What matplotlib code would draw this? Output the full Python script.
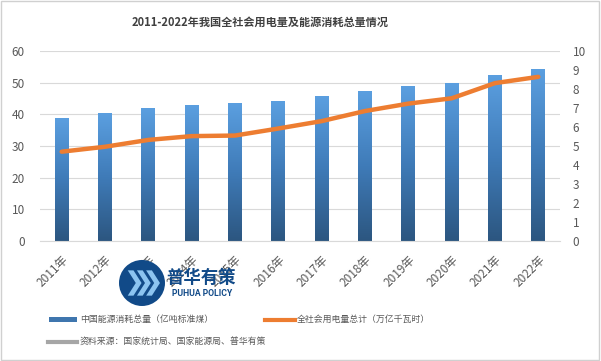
import numpy as np
import matplotlib.pyplot as plt
from matplotlib.patches import Rectangle, Circle, Polygon
from matplotlib.lines import Line2D
from matplotlib.colors import LinearSegmentedColormap

plt.rcParams['font.family'] = ['Noto Sans CJK SC', 'DejaVu Sans']

# ----- Data -----
years = ['2011年', '2012年', '2013年', '2014年', '2015年', '2016年',
         '2017年', '2018年', '2019年', '2020年', '2021年', '2022年']
energy = [38.7, 40.2, 41.7, 42.8, 43.4, 44.1, 45.6, 47.2, 48.7, 49.8, 52.4, 54.1]
power = [4.70, 4.96, 5.32, 5.52, 5.55, 5.92, 6.31, 6.84, 7.23, 7.51, 8.31, 8.64]

title = '2011-2022年我国全社会用电量及能源消耗总量情况'
lab_energy = '中国能源消耗总量（亿吨标准煤）'
lab_power = '全社会用电量总计（万亿千瓦时）'
source = '资料来源：国家统计局、国家能源局、普华有策'

grey = '#595959'
orange = '#ED7D31'
logo_blue = '#114A88'
cmap = LinearSegmentedColormap.from_list('bar', ['#2C5680', '#3F7BB8', '#5B9FE0'])

W, H = 601, 361
fig = plt.figure(figsize=(W / 100, H / 100), dpi=100)

def fx(px):
    return px / W

def fy(py):
    return 1 - py / H

ax = fig.add_axes([fx(40), fy(241), fx(520), 190 / H])
ax2 = ax.twinx()

x = np.arange(len(years))
w = 0.32
grad = np.linspace(0, 1, 256).reshape(-1, 1)
for xi, v in zip(x, energy):
    ax.imshow(grad, cmap=cmap, origin='lower', aspect='auto',
              extent=(xi - w / 2, xi + w / 2, 0, v), zorder=2)

ax.set_xlim(-0.5, len(years) - 0.5)
ax.set_ylim(0, 60)
ax.set_yticks(range(0, 61, 10))
ax.grid(axis='y', color='#D9D9D9', linewidth=0.8, zorder=0)
ax.set_axisbelow(True)

ax2.plot(x, power, color=orange, linewidth=3.2, solid_capstyle='round', zorder=3)
ax2.set_ylim(0, 10)
ax2.set_yticks(range(0, 11))

ax.set_xticks(x)
ax.set_xticklabels(years, rotation=45, ha='right', rotation_mode='anchor')
for a in (ax, ax2):
    for s in a.spines.values():
        s.set_visible(False)
    a.tick_params(length=0, colors=grey, labelsize=8.5)
ax.tick_params(axis='x', pad=9)
ax.tick_params(axis='y', pad=11)
ax2.tick_params(axis='y', pad=9)
ax.spines['bottom'].set_visible(True)
ax.spines['bottom'].set_color('#D9D9D9')

fig.text(fx(260), fy(22), title, ha='center', va='center', fontsize=8,
         fontweight='bold', color='#404040')

# ----- Legend -----
fs = 6.4
fig.patches.append(Rectangle((fx(49), fy(322)), fx(28), 5 / H, transform=fig.transFigure,
                             facecolor='#3F76AE', edgecolor='none'))
fig.text(fx(80), fy(319.5), lab_energy, ha='left', va='center', fontsize=fs, color=grey)
fig.lines.append(Line2D([fx(265), fx(295)], [fy(319.5), fy(319.5)],
                        transform=fig.transFigure, color=orange, linewidth=3))
fig.text(fx(297), fy(319.5), lab_power, ha='left', va='center', fontsize=fs, color=grey)
fig.lines.append(Line2D([fx(48), fx(77)], [fy(342), fy(342)],
                        transform=fig.transFigure, color='#A6A6A6', linewidth=3))
fig.text(fx(80), fy(342), source, ha='left', va='center', fontsize=fs, color=grey)

# ----- Watermark logo -----
lax = fig.add_axes([fx(119), fy(306), fx(46), 46 / H], zorder=5)
lax.set_xlim(-1, 1)
lax.set_ylim(-1, 1)
lax.set_aspect('equal')
lax.axis('off')
lax.add_patch(Circle((0, 0), 1, facecolor=logo_blue, edgecolor='none'))
for dx in (-0.62, -0.22, 0.18):
    pts = [(dx, 0.55), (dx + 0.25, 0.55), (dx + 0.6, 0.0), (dx + 0.25, -0.55),
           (dx, -0.55), (dx + 0.35, 0.0)]
    lax.add_patch(Polygon(pts, closed=True, facecolor='#8CC4F0', edgecolor='none'))
fig.text(fx(201), fy(278), '普华有策', ha='center', va='center', fontsize=12.5,
         fontweight='bold', color=logo_blue, zorder=6)
fig.text(fx(202), fy(294), 'PUHUA POLICY', ha='center', va='center', fontsize=6.2,
         fontweight='bold', family='Roboto', color=logo_blue, zorder=6)

# frame
fig.patches.append(Rectangle((0.002, 0.003), 0.995, 0.994, transform=fig.transFigure,
                             facecolor='none', edgecolor='#D0D0D0', linewidth=1))

fig.savefig('out.png', dpi=100)
